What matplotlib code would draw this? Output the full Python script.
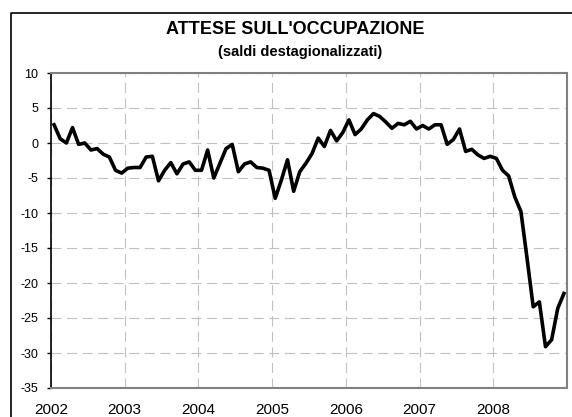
import numpy as np
import matplotlib
matplotlib.use('Agg')
import matplotlib.pyplot as plt
from matplotlib.lines import Line2D

plt.rcParams['font.family'] = ['Liberation Sans', 'DejaVu Sans']
plt.rcParams['axes.unicode_minus'] = False

# saldi mensili destagionalizzati, gen 2002 - dic 2008
saldi = [
    2.6, 0.6, 0.0, 2.2, -0.2, 0.0, -1.0, -0.8, -1.6, -2.0, -3.9, -4.3,
    -3.6, -3.5, -3.5, -2.0, -1.9, -5.4, -3.9, -2.8, -4.4, -3.0, -2.7, -3.9,
    -3.9, -1.0, -5.0, -2.9, -0.8, -0.2, -4.1, -3.0, -2.7, -3.5, -3.6, -3.9,
    -7.9, -5.3, -2.4, -6.9, -4.1, -2.9, -1.5, 0.7, -0.5, 1.8, 0.3, 1.5,
    3.3, 1.2, 2.0, 3.3, 4.2, 3.8, 3.0, 2.1, 2.8, 2.6, 3.1, 2.0,
    2.5, 2.0, 2.6, 2.6, -0.2, 0.5, 2.0, -1.2, -0.9, -1.7, -2.2, -1.9,
    -2.2, -3.9, -4.7, -7.7, -9.8, -16.5, -23.4, -22.7, -29.1, -28.1, -23.6, -21.5,
]
anni = [2002, 2003, 2004, 2005, 2006, 2007, 2008]
y_ticks = [10, 5, 0, -5, -10, -15, -20, -25, -30, -35]

x = anni[0] + (np.arange(len(saldi)) + 0.5) / 12

fig = plt.figure(figsize=(5.72, 4.17), dpi=100)
ax = fig.add_axes([51 / 572, 1 - 388 / 417, 516 / 572, 315 / 417])

ax.plot(x, saldi, color='black', linewidth=2.6, solid_joinstyle='round', zorder=3)

ax.set_xlim(2002, 2009)
ax.set_ylim(-35, 10)
ax.set_xticks(anni)
ax.set_xticklabels([str(a) for a in anni])
ax.set_yticks(y_ticks)

ax.grid(True, color='#c0c0c0', linewidth=0.8, linestyle=(0, (9, 5)))
ax.set_axisbelow(True)

for s in ['top', 'right', 'bottom']:
    ax.spines[s].set_color('#808080')
    ax.spines[s].set_linewidth(1.5)
ax.spines['left'].set_color('black')
ax.spines['left'].set_linewidth(1.2)

ax.tick_params(axis='x', length=0, pad=11, labelsize=11)
ax.tick_params(axis='y', length=3, width=1, pad=6, labelsize=9, direction='out')

fig.text(295 / 572, 1 - 30 / 417, "ATTESE SULL'OCCUPAZIONE", ha='center', va='center',
         fontsize=13, fontweight='bold')
fig.text(300 / 572, 1 - 52 / 417, "(saldi destagionalizzati)", ha='center', va='center',
         fontsize=10.5, fontweight='bold')

# cornice esterna
fig.add_artist(Line2D([11 / 572, 11 / 572, 1.0], [0.0, 1 - 13 / 417, 1 - 13 / 417],
                      transform=fig.transFigure, color='black', linewidth=1.2))

fig.savefig('out.png', dpi=100)
